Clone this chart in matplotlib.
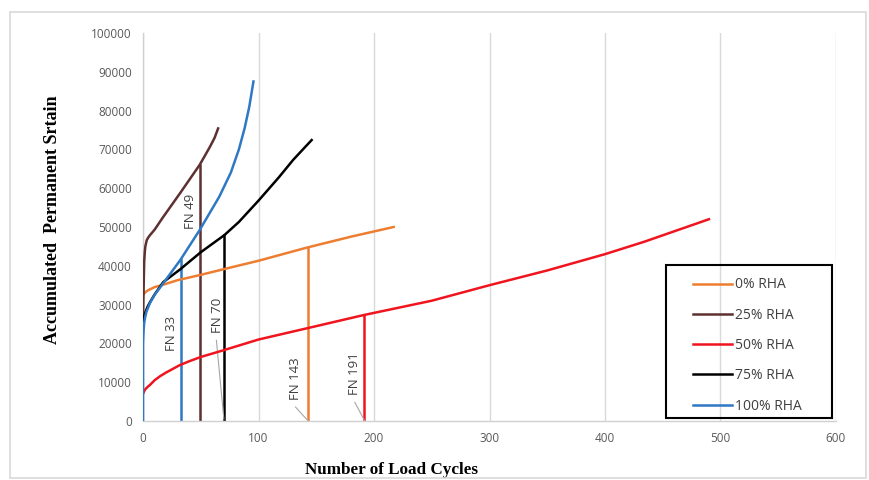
import matplotlib.pyplot as plt
from matplotlib.patches import Rectangle

x_0 = [0, 2, 5, 10, 16, 30, 49, 75, 100, 142, 180, 217]
y_0 = [32500, 33200, 33800, 34500, 35000, 36300, 37600, 39500, 41300, 44700, 47500, 50000]

x_25 = [0, 0.3, 0.7, 1, 1.5, 2, 3.2, 4.5, 6, 10, 17.5, 31.8, 49, 54, 58, 62, 65]
y_25 = [25000, 31000, 37000, 41000, 43500, 45000, 46600, 47300, 47900, 49300, 52600, 58600, 66000, 68600, 70700, 73000, 75400]

x_50 = [0, 1, 2, 4, 6, 10, 15, 20, 31.8, 40, 50, 70.4, 100, 142, 191, 250, 300, 350, 400, 434, 490]
y_50 = [7000, 7700, 8200, 8800, 9300, 10500, 11600, 12500, 14400, 15400, 16500, 18300, 21000, 23900, 27300, 31000, 35000, 38800, 43000, 46200, 52000]

x_75 = [0, 0.3, 1, 2, 4, 6, 10, 17.5, 31.8, 50, 70.4, 83, 100, 117.6, 130, 140, 146]
y_75 = [24000, 25500, 27000, 28000, 29500, 30600, 32600, 35800, 39000, 43500, 47900, 51300, 56800, 62800, 67300, 70500, 72400]

x_100 = [0, 0, 0.5, 1, 2, 3, 6, 10, 17.5, 32.3, 49, 66, 76, 83, 88, 92, 95.6]
y_100 = [0, 20000, 23500, 25300, 27000, 28200, 30400, 32500, 35500, 41500, 49200, 57800, 64000, 70000, 75500, 81000, 87500]

fn_cycles = [33, 49, 70, 143, 191]
fn_strain = [41500, 66000, 47900, 44700, 27300]
fn_labels = ['FN 33', 'FN 49', 'FN 70', 'FN 143', 'FN 191']
fn_label_x = [24.8, 40.7, 64.3, 132, 183.4]
fn_label_y = [22600, 54000, 27300, 11000, 12300]

series_labels = ['0% RHA', '25% RHA', '50% RHA', '75% RHA', '100% RHA']

c_orange = '#ED7D31'
c_brown = '#5E3030'
c_red = '#F0141E'
c_black = '#000000'
c_blue = '#2F78C4'
fn_colors = [c_blue, c_brown, c_black, c_orange, c_red]

fig = plt.figure(figsize=(8.69, 4.8), dpi=100)
ax = fig.add_axes([0.1646, 0.1229, 0.7974, 0.8084])

# light frame around the whole chart
fig.patches.append(Rectangle((0.012, 0.004), 0.985, 0.971, transform=fig.transFigure,
                             fill=False, edgecolor='#d9d9d9', linewidth=1.2))

lw = 1.8
ax.plot(x_0, y_0, color=c_orange, lw=lw, label=series_labels[0], zorder=3)
ax.plot(x_25, y_25, color=c_brown, lw=lw, label=series_labels[1], zorder=3)
ax.plot(x_50, y_50, color=c_red, lw=lw, label=series_labels[2], zorder=3)
ax.plot(x_75, y_75, color=c_black, lw=lw, label=series_labels[3], zorder=3)
ax.plot(x_100, y_100, color=c_blue, lw=lw, label=series_labels[4], zorder=3)

# failure number markers
for i in range(len(fn_cycles)):
    ax.plot([fn_cycles[i], fn_cycles[i]], [0, fn_strain[i]], color=fn_colors[i], lw=lw, zorder=2)
    ax.text(fn_label_x[i], fn_label_y[i], fn_labels[i], rotation=90, ha='center', va='center',
            fontsize=9.5, color='#404040', family='Open Sans', zorder=4)

# leader lines for the lower labels
ax.plot([63.5, 70], [20800, 500], color='#a6a6a6', lw=0.8, zorder=2)
ax.plot([132, 143], [3600, 0], color='#a6a6a6', lw=0.8, zorder=2)
ax.plot([183.4, 192], [4800, 0], color='#a6a6a6', lw=0.8, zorder=2)

ax.set_xlim(0, 600)
ax.set_ylim(0, 100000)
ax.set_xticks(range(0, 601, 100))
ax.set_yticks(range(0, 100001, 10000))
ax.xaxis.grid(True, color='#d9d9d9', lw=1)
ax.set_axisbelow(True)
for s in ['top', 'right']:
    ax.spines[s].set_visible(False)
for s in ['left', 'bottom']:
    ax.spines[s].set_color('#d0d0d0')
    ax.spines[s].set_linewidth(1)
ax.tick_params(length=0, labelsize=8.5, colors='#595959', pad=8)
for lab in ax.get_xticklabels() + ax.get_yticklabels():
    lab.set_family('Open Sans')

ax.set_xlabel('Number of Load Cycles', family='Liberation Serif', fontweight='bold', fontsize=12.3)
ax.xaxis.set_label_coords(0.359, -0.105)
ax.set_ylabel('Accumulated  Permanent Srtain', family='Liberation Serif', fontweight='bold', fontsize=13)
ax.yaxis.set_label_coords(-0.118, 0.518)

# legend box drawn separately so the padding matches
ax.add_patch(Rectangle((0.7547, 0.0077), 0.2395, 0.3943, transform=ax.transAxes,
                       fill=False, edgecolor='black', linewidth=1.5, zorder=5, clip_on=False))
leg = ax.legend(loc='upper left', bbox_to_anchor=(0.794, 0.37), frameon=False,
                handlelength=2.8, labelspacing=1.1, borderpad=0, borderaxespad=0,
                handletextpad=0.2, prop={'family': 'Open Sans', 'size': 10})
for t in leg.get_texts():
    t.set_color('#404040')

plt.savefig('out.png', dpi=100)
